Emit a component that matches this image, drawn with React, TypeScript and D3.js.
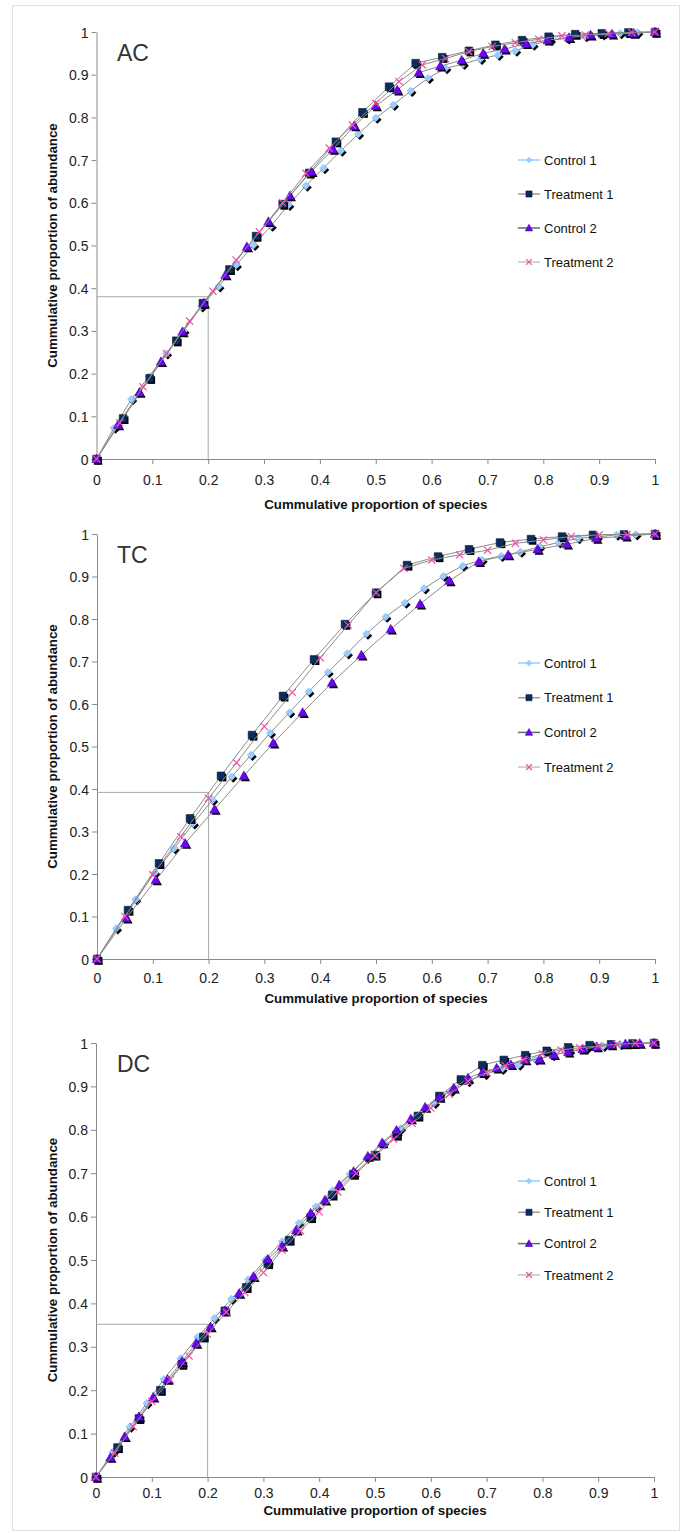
import React, { useEffect, useRef } from "react";
import * as d3 from "d3";

const seriesNames = ["Control 1", "Treatment 1", "Control 2", "Treatment 2"];
const tickValues = [0, 0.1, 0.2, 0.3, 0.4, 0.5, 0.6, 0.7, 0.8, 0.9, 1];

// cumulative proportion of abundance, one value per ranked species (x = rank / n)
const acControl1 = [0, 0.073, 0.14, 0.193, 0.247, 0.3, 0.357, 0.404, 0.454, 0.501, 0.546, 0.595, 0.64, 0.681, 0.722, 0.761, 0.799, 0.829, 0.862, 0.892, 0.915, 0.925, 0.937, 0.946, 0.956, 0.97, 0.981, 0.985, 0.99, 0.994, 0.997, 0.999, 1];
const acTreatment1 = [0, 0.095, 0.189, 0.277, 0.365, 0.444, 0.522, 0.597, 0.67, 0.743, 0.812, 0.872, 0.927, 0.941, 0.956, 0.97, 0.981, 0.989, 0.995, 0.997, 0.999, 1];
const acControl2 = [0, 0.08, 0.156, 0.228, 0.298, 0.365, 0.431, 0.497, 0.556, 0.616, 0.673, 0.725, 0.78, 0.827, 0.864, 0.905, 0.92, 0.934, 0.95, 0.96, 0.973, 0.981, 0.987, 0.993, 0.995, 0.997, 1];
const acTreatment2 = [0, 0.085, 0.169, 0.247, 0.323, 0.393, 0.466, 0.532, 0.6, 0.669, 0.728, 0.782, 0.833, 0.884, 0.923, 0.938, 0.954, 0.966, 0.975, 0.983, 0.991, 0.993, 0.997, 0.999, 1];

const tcControl1 = [0, 0.072, 0.14, 0.203, 0.26, 0.319, 0.374, 0.429, 0.48, 0.532, 0.58, 0.629, 0.675, 0.719, 0.765, 0.805, 0.838, 0.872, 0.901, 0.925, 0.939, 0.948, 0.958, 0.97, 0.98, 0.99, 0.993, 0.998, 0.999, 1];
const tcTreatment1 = [0, 0.115, 0.225, 0.331, 0.431, 0.527, 0.619, 0.705, 0.788, 0.862, 0.927, 0.947, 0.964, 0.98, 0.988, 0.994, 0.998, 0.999, 1];
const tcControl2 = [0, 0.096, 0.186, 0.272, 0.352, 0.431, 0.508, 0.58, 0.65, 0.715, 0.776, 0.835, 0.89, 0.935, 0.951, 0.964, 0.976, 0.99, 0.995, 1];
const tcTreatment2 = [0, 0.1, 0.198, 0.288, 0.378, 0.462, 0.547, 0.627, 0.709, 0.786, 0.862, 0.919, 0.939, 0.951, 0.962, 0.978, 0.986, 0.994, 0.998, 0.999, 1];

const dcControl1 = [0, 0.058, 0.116, 0.17, 0.225, 0.273, 0.322, 0.366, 0.41, 0.455, 0.5, 0.543, 0.585, 0.623, 0.661, 0.698, 0.735, 0.77, 0.803, 0.833, 0.862, 0.89, 0.912, 0.928, 0.94, 0.95, 0.962, 0.972, 0.981, 0.988, 0.993, 0.997, 0.999, 1];
const dcTreatment1 = [0, 0.068, 0.135, 0.2, 0.26, 0.323, 0.383, 0.437, 0.492, 0.546, 0.598, 0.65, 0.698, 0.742, 0.788, 0.832, 0.878, 0.916, 0.949, 0.961, 0.972, 0.982, 0.99, 0.995, 0.997, 0.999, 1];
const dcControl2 = [0, 0.045, 0.093, 0.139, 0.184, 0.225, 0.266, 0.308, 0.346, 0.383, 0.423, 0.462, 0.502, 0.532, 0.569, 0.608, 0.638, 0.673, 0.704, 0.739, 0.77, 0.799, 0.825, 0.852, 0.875, 0.896, 0.919, 0.932, 0.942, 0.95, 0.961, 0.963, 0.973, 0.979, 0.986, 0.991, 0.996, 0.998, 0.999, 1];
const dcTreatment2 = [0, 0.055, 0.116, 0.174, 0.224, 0.279, 0.329, 0.38, 0.425, 0.471, 0.523, 0.567, 0.611, 0.657, 0.7, 0.74, 0.778, 0.815, 0.85, 0.882, 0.912, 0.932, 0.948, 0.962, 0.975, 0.984, 0.989, 0.993, 0.997, 0.999, 1];

// the 20% of species guide line, read at this abundance
const panelNames = ["AC", "TC", "DC"];
const guideValues = [0.38, 0.392, 0.352];
const panelSeries = [
  [acControl1, acTreatment1, acControl2, acTreatment2],
  [tcControl1, tcTreatment1, tcControl2, tcTreatment2],
  [dcControl1, dcTreatment1, dcControl2, dcTreatment2],
];

// page layout of each panel
const layout = [
  { top: 32, bottom: 459, left: 96.5, right: 655, tickDy: 26, titleDy: 50, legendTop: 160, legendGap: 34 },
  { top: 534, bottom: 959, left: 97, right: 655, tickDy: 24, titleDy: 44, legendTop: 663, legendGap: 34.7 },
  { top: 1043, bottom: 1477, left: 96, right: 654, tickDy: 21, titleDy: 38, legendTop: 1181, legendGap: 31.3 },
];

const font = "'Liberation Sans', Arial, sans-serif";
const markerFill = ["#99ccff", "#0b2d5c", "#6a06f0", "none"];
const legendLine = ["#99ccff", "#9a9a9a", "#6a6a6a", "#c4c4c4"];

function markerPath(i: number, s = 1) {
  if (i === 0) return `M0,${-4.2 * s}L${4.2 * s},0L0,${4.2 * s}L${-4.2 * s},0Z`;
  if (i === 1) return `M${-3.8 * s},${-3.8 * s}h${7.6 * s}v${7.6 * s}h${-7.6 * s}Z`;
  if (i === 2) return `M0,${-4.8 * s}L${4.6 * s},${3.6 * s}L${-4.6 * s},${3.6 * s}Z`;
  return `M${-3.6 * s},${-3.6 * s}L${3.6 * s},${3.6 * s}M${3.6 * s},${-3.6 * s}L${-3.6 * s},${3.6 * s}`;
}

function drawMarker(g: any, i: number, cx: number, cy: number, s = 1, shadow = true) {
  const m = g.append("g").attr("transform", `translate(${cx},${cy})`);
  if (i === 3) {
    m.append("path").attr("d", markerPath(i, s)).attr("fill", "none").attr("stroke", "#ee4fa8").attr("stroke-width", 1.2);
    return;
  }
  if (shadow) {
    m.append("path").attr("d", markerPath(i, s)).attr("transform", "translate(1.6,1.8)").attr("fill", "#000");
  }
  m.append("path")
    .attr("d", markerPath(i, s))
    .attr("fill", markerFill[i])
    .attr("stroke", i === 1 ? "#06183a" : i === 2 ? "#4b00b0" : "none")
    .attr("stroke-width", 0.6);
}

export default function App() {
  const svgRef = useRef<SVGSVGElement>(null);

  useEffect(() => {
    const svg = d3.select(svgRef.current);
    svg.selectAll("*").remove();

    // outer frame
    svg.append("rect").attr("x", 12.5).attr("y", 5.5).attr("width", 667).attr("height", 1525)
      .attr("fill", "#fff").attr("stroke", "#e2e2e2");

    const fmt = (d: number) => String(+d.toFixed(1));

    layout.forEach((p, k) => {
      const x = d3.scaleLinear().domain([0, 1]).range([p.left, p.right]);
      const y = d3.scaleLinear().domain([0, 1]).range([p.bottom, p.top]);
      const g = svg.append("g");

      // axes
      const xa = g.append("g").attr("transform", `translate(0,${p.bottom})`)
        .call(d3.axisBottom(x).tickValues(tickValues).tickSize(5).tickSizeOuter(0).tickFormat(fmt as any));
      const ya = g.append("g").attr("transform", `translate(${p.left},0)`)
        .call(d3.axisLeft(y).tickValues(tickValues).tickSize(5).tickSizeOuter(0).tickFormat(fmt as any));
      [xa, ya].forEach((a) => {
        a.select(".domain").attr("stroke", "#8a8a8a");
        a.selectAll(".tick line").attr("stroke", "#8a8a8a");
        a.selectAll("text").attr("font-family", font).attr("font-size", 14).attr("fill", "#222");
      });
      xa.selectAll("text").attr("y", p.tickDy).attr("dy", 0);
      ya.selectAll("text").attr("x", -8).attr("dy", "0.36em");

      // guide lines at 20% of species
      const gv = guideValues[k];
      g.append("path")
        .attr("d", `M${x(0)},${y(gv)}H${x(0.2)}V${y(0)}`)
        .attr("fill", "none").attr("stroke", "#a8a8a8").attr("stroke-width", 1);

      // axis titles
      g.append("text").attr("x", (p.left + p.right) / 2).attr("y", p.bottom + p.titleDy)
        .attr("text-anchor", "middle").attr("font-family", font).attr("font-weight", "bold")
        .attr("font-size", 13.3).attr("fill", "#111").text("Cummulative proportion of species");
      g.append("text").attr("transform", `translate(57,${(p.top + p.bottom) / 2}) rotate(-90)`)
        .attr("text-anchor", "middle").attr("font-family", font).attr("font-weight", "bold")
        .attr("font-size", 13.3).attr("fill", "#111").text("Cummulative proportion of abundance");

      g.append("text").attr("x", 117).attr("y", p.top + 29).attr("font-family", font)
        .attr("font-size", 23).attr("fill", "#333").text(panelNames[k]);

      // series
      const line = d3.line<number>().x((d, i, arr) => x(i / (arr.length - 1))).y((d) => y(d));
      panelSeries[k].forEach((vals, si) => {
        const n = vals.length - 1;
        g.append("path").attr("d", line(vals) as string).attr("fill", "none")
          .attr("stroke", "#8c8c8c").attr("stroke-width", 1);
        vals.forEach((v, i) => drawMarker(g, si, x(i / n), y(v)));
      });

      // legend
      seriesNames.forEach((name, si) => {
        const ly = p.legendTop + si * p.legendGap;
        g.append("line").attr("x1", 518).attr("x2", 540).attr("y1", ly).attr("y2", ly)
          .attr("stroke", legendLine[si]).attr("stroke-width", 1.5);
        drawMarker(g, si, 529, ly, 0.8, false);
        g.append("text").attr("x", 544).attr("y", ly).attr("dy", "0.36em").attr("font-family", font)
          .attr("font-size", 13).attr("fill", "#111").text(name);
      });
    });
  }, []);

  return (
    <svg ref={svgRef} width={681} height={1533}
      style={{ position: "absolute", left: 0, top: 0, background: "#fff" }} />
  );
}
